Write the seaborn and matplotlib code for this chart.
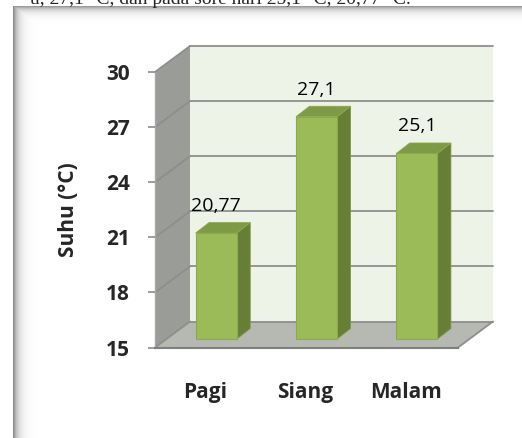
import numpy as np
import matplotlib
matplotlib.use("Agg")
import matplotlib.pyplot as plt
import seaborn as sns
from matplotlib.patches import Polygon

categories = ["Pagi", "Siang", "Malam"]
suhu = [20.77, 27.1, 25.1]
value_labels = ["20,77", "27,1", "25,1"]
y_ticks = [15, 18, 21, 24, 27, 30]
y_label = "Suhu (°C)"
# line of page text cut off by the top edge of the screenshot
page_text = "u, 27,1 °C, dan pada sore hari 25,1 °C, 20,77 °C."

W, H, DPI = 522, 438, 100

sns.set_style("white")
plt.rcParams["font.family"] = ["Open Sans", "DejaVu Sans"]

fig = plt.figure(figsize=(W / DPI, H / DPI), dpi=DPI)

# background frame with a soft inner shadow (left + top)
bg = fig.add_axes([0, 0, 1, 1], zorder=-1)
xs = np.arange(13, W) + 0.5
ys = np.arange(6, H) + 0.5
shade_x = 1 - 0.5 * np.exp(-(xs - 13) / 5.0)
shade_y = 1 - 0.45 * np.exp(-(ys - 6) / 4.0)
shade = np.minimum(shade_x[None, :], shade_y[:, None])
bg.imshow(shade, cmap="gray", vmin=0, vmax=1, extent=(13, W, H, 6),
          aspect="auto", interpolation="bilinear")
bg.text(30, 3.5, page_text, family="Liberation Serif", fontsize=14,
        va="baseline", ha="left", zorder=5)
bg.set_xlim(0, W)
bg.set_ylim(H, 0)
bg.axis("off")

# front plane of the 3d chart (pixel box)
x_left, x_right = 155, 458
y_top, y_bot = 72, 347.5
ax = fig.add_axes([x_left / W, (H - y_bot) / H, (x_right - x_left) / W, (y_bot - y_top) / H])
ax.set_facecolor("none")

sns.barplot(x=categories, y=suhu, color="#9BBB59", saturation=1, width=0.41,
            edgecolor="#8BAA4D", linewidth=0.8, ax=ax, zorder=3)
bars = list(ax.patches)

ax.set_xlim(-0.5, 2.52)
ax.set_ylim(15, 30)
ax.set_yticks(y_ticks)
x0, x1 = ax.get_xlim()
y0, y1 = ax.get_ylim()

# pixel offsets -> data units
ppx = ax.bbox.width / (x1 - x0)
ppy = ax.bbox.height / (y1 - y0)
dx, dy = 35 / ppx, 26 / ppy        # depth of the walls
fx, fy = 11 / ppx, 8.5 / ppy       # where the bar front sits
bx, by = 13.5 / ppx, 10.5 / ppy    # depth of a bar

grid_c = "#8E8E8E"

ax.add_patch(Polygon([(x0 + dx, y0 + dy), (x1 + dx, y0 + dy), (x1 + dx, y1 + dy), (x0 + dx, y1 + dy)],
                     fc="#EEF3E8", ec="none", zorder=0.5, clip_on=False))
ax.add_patch(Polygon([(x0, y0), (x0 + dx, y0 + dy), (x0 + dx, y1 + dy), (x0, y1)],
                     fc="#9A9C97", ec="none", zorder=0.6, clip_on=False))
ax.add_patch(Polygon([(x0, y0), (x1, y0), (x1 + dx, y0 + dy), (x0 + dx, y0 + dy)],
                     fc="#B6B8B2", ec="none", zorder=0.7, clip_on=False))

for t in y_ticks:
    ax.plot([x0 + dx, x1 + dx], [t + dy, t + dy], color=grid_c, lw=1.3, zorder=0.8, clip_on=False)
    ax.plot([x0, x0 + dx], [t, t + dy], color=grid_c, lw=1.3, zorder=0.8, clip_on=False)
ax.plot([x1, x1 + dx], [y0, y0 + dy], color=grid_c, lw=1.3, zorder=0.8, clip_on=False)

# give the seaborn bars their floor and depth
for p, lab in zip(bars, value_labels):
    h = p.get_height()
    bl = p.get_x() + fx
    w = p.get_width()
    p.set_x(bl)
    p.set_y(y0 + fy)
    p.set_height(h - y0)
    p.set_clip_on(False)
    br = bl + w
    b = y0 + fy
    tp = h + fy
    ax.add_patch(Polygon([(br, b), (br + bx, b + by), (br + bx, tp + by), (br, tp)],
                         fc="#677E37", ec="#7D9A45", lw=0.6, zorder=2.9, clip_on=False))
    ax.add_patch(Polygon([(bl, tp), (br, tp), (br + bx, tp + by), (bl + bx, tp + by)],
                         fc="#7E9A47", ec="#8BAA4D", lw=0.6, zorder=2.9, clip_on=False))
    ax.annotate(lab, (bl + w / 2, tp), xytext=(0, 27), textcoords="offset pixels",
                ha="center", va="center", fontsize=14, color="black")

sns.despine(ax=ax, top=True, right=True)
ax.spines["left"].set_color("#A8A8A8")
ax.spines["left"].set_linewidth(1.0)
ax.spines["left"].set_zorder(0.9)
ax.spines["bottom"].set_color("#7F7F7F")
ax.spines["bottom"].set_linewidth(1.5)

ax.tick_params(axis="y", length=5, width=1.2, color=grid_c, pad=13, labelsize=15, left=True)
ax.tick_params(axis="x", length=0, pad=25, labelsize=15)
for lab in ax.get_yticklabels() + ax.get_xticklabels():
    lab.set_fontweight("bold")

ax.set_xlabel("")
ax.set_ylabel(y_label, fontsize=15, fontweight="bold")
ax.yaxis.set_label_coords(-0.25, 0.5)

fig.savefig("out.png", dpi=DPI)
